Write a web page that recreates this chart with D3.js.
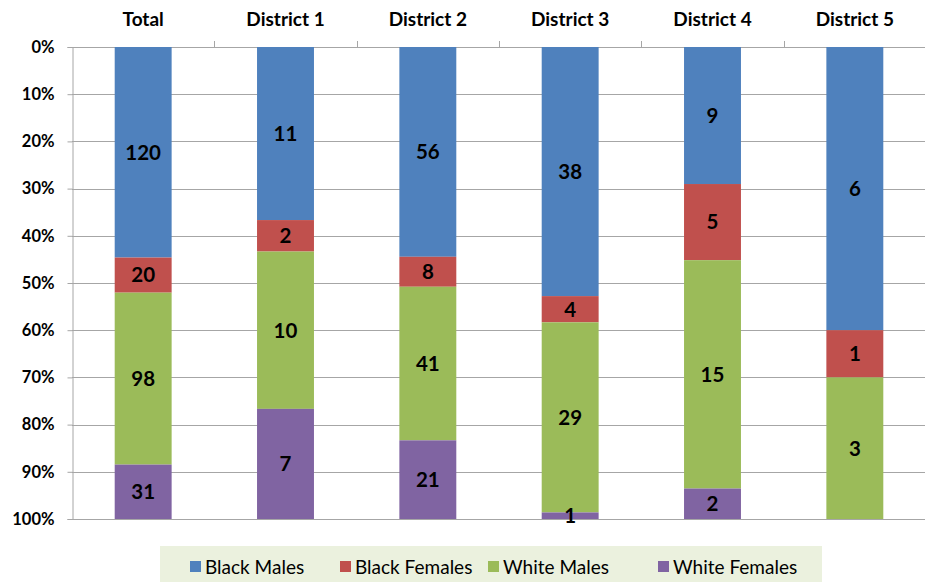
<!DOCTYPE html>
<html>
<head>
<meta charset="utf-8">
<script src="https://cdn.jsdelivr.net/npm/d3@7"></script>
<style>
  html, body { margin: 0; padding: 0; background: #fff; }
  svg { display: block; font-family: Lato, "Open Sans", sans-serif; }
</style>
</head>
<body>
<svg id="chart" width="925" height="582"></svg>
<script>
// Categories along the top axis
const categories = ["Total", "District 1", "District 2", "District 3", "District 4", "District 5"];
// Series (counts per category)
const seriesNames = ["Black Males", "Black Females", "White Males", "White Females"];
const blackMales   = [120, 11, 56, 38, 9, 6];
const blackFemales = [20, 2, 8, 4, 5, 1];
const whiteMales   = [98, 10, 41, 29, 15, 3];
const whiteFemales = [31, 7, 21, 1, 2, 0];
const seriesColors = ["#4F81BD", "#C0504D", "#9BBB59", "#8064A2"];
const yTicks = [0, 0.1, 0.2, 0.3, 0.4, 0.5, 0.6, 0.7, 0.8, 0.9, 1];

const svg = d3.select("#chart");
const margin = { left: 72, top: 47, right: 926, bottom: 519 };

const rows = categories.map((c, i) => ({
  category: c,
  "Black Males": blackMales[i],
  "Black Females": blackFemales[i],
  "White Males": whiteMales[i],
  "White Females": whiteFemales[i]
}));

const stacked = d3.stack().keys(seriesNames).offset(d3.stackOffsetExpand)(rows);

const x = d3.scaleBand().domain(categories).range([margin.left, margin.right]).paddingInner(0.6).paddingOuter(0.3);
const xOuter = d3.scaleBand().domain(categories).range([margin.left, margin.right]);
const y = d3.scaleLinear().domain([0, 1]).range([margin.top, margin.bottom]);

// Horizontal gridlines
svg.append("g").selectAll("line").data(yTicks).join("line")
  .attr("x1", margin.left).attr("x2", 925)
  .attr("y1", d => Math.round(y(d)) + 0.5).attr("y2", d => Math.round(y(d)) + 0.5)
  .attr("stroke", "#a6a6a6").attr("stroke-width", 1);

// Left value axis
const yAxis = svg.append("g").attr("transform", `translate(${margin.left + 0.5},0)`)
  .call(d3.axisLeft(y).tickValues(yTicks).tickFormat(d3.format(".0%")).tickSize(5).tickPadding(13));
yAxis.select(".domain").attr("stroke", "#a6a6a6");
yAxis.selectAll(".tick line").attr("stroke", "#a6a6a6");
yAxis.selectAll(".tick text")
  .attr("font-family", "Lato, sans-serif").attr("font-size", 16.5).attr("font-weight", "bold").attr("fill", "#000");

// Top category axis
const xAxis = svg.append("g").attr("transform", `translate(0,${Math.round(margin.top) + 0.5})`)
  .call(d3.axisTop(xOuter).tickSize(0).tickPadding(22));
xAxis.select(".domain").remove();
xAxis.selectAll(".tick text")
  .attr("font-family", "Lato, sans-serif").attr("font-size", 19).attr("font-weight", "bold").attr("fill", "#000");
// category boundary tick marks
svg.append("g").selectAll("line").data(categories.slice(1)).join("line")
  .attr("x1", d => Math.round(xOuter(d)) + 0.5).attr("x2", d => Math.round(xOuter(d)) + 0.5)
  .attr("y1", margin.top - 6).attr("y2", margin.top)
  .attr("stroke", "#a6a6a6");

// Stacked bars
const layers = svg.append("g").selectAll("g").data(stacked).join("g")
  .attr("fill", (d, i) => seriesColors[i]);
layers.selectAll("rect").data(d => d.map(v => ({ v, cat: v.data.category }))).join("rect")
  .attr("x", d => x(d.cat))
  .attr("width", x.bandwidth())
  .attr("y", d => y(d.v[0]))
  .attr("height", d => y(d.v[1]) - y(d.v[0]));

// Value labels
const labels = svg.append("g");
stacked.forEach(layer => {
  layer.forEach(v => {
    const val = v.data[layer.key];
    if (!val) return;
    labels.append("text")
      .attr("x", x(v.data.category) + x.bandwidth() / 2)
      .attr("y", (y(v[0]) + y(v[1])) / 2)
      .attr("dy", "0.36em")
      .attr("text-anchor", "middle")
      .attr("font-size", 20.5).attr("font-weight", "bold").attr("fill", "#000")
      .text(val);
  });
});

// Legend
const legend = svg.append("g");
legend.append("rect").attr("x", 160).attr("y", 546).attr("width", 662).attr("height", 40).attr("fill", "#EBF1DE");
const legendX = [190, 340, 488, 658];
seriesNames.forEach((s, i) => {
  legend.append("rect").attr("x", legendX[i]).attr("y", 561).attr("width", 11).attr("height", 11).attr("fill", seriesColors[i]);
  legend.append("text").attr("x", legendX[i] + 15).attr("y", 567).attr("dy", "0.36em")
    .attr("font-size", 19).attr("fill", "#000").attr("font-family", "Lato, sans-serif").text(s);
});
</script>
</body>
</html>
